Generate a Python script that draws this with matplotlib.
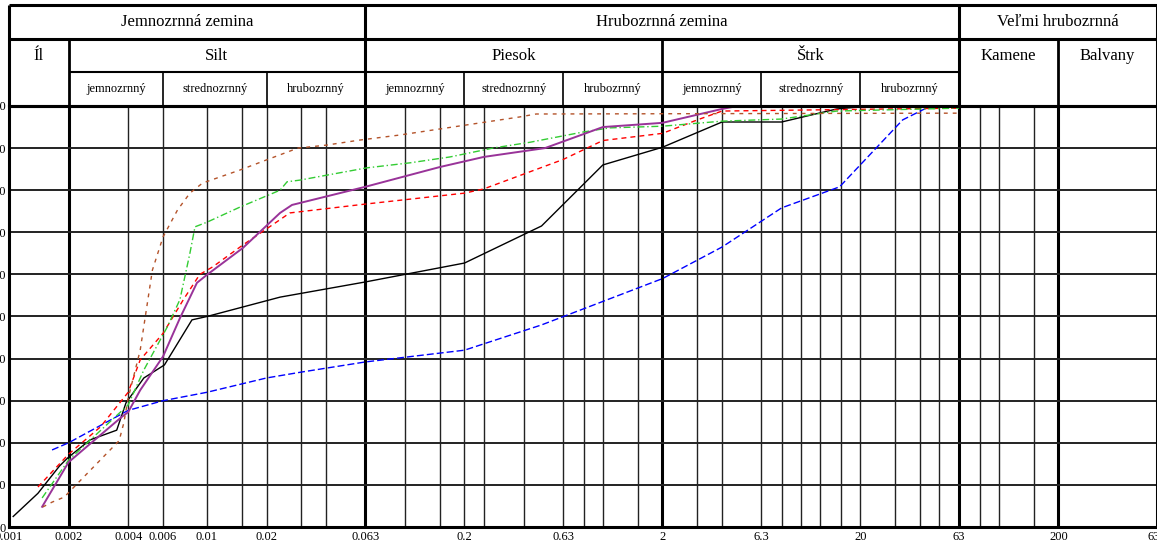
import numpy as np
import matplotlib.pyplot as plt

# zrnitostne krivky: priemer zrna [mm], prepad [%]
black_d = [0.00105, 0.0014, 0.0018, 0.002, 0.00257, 0.0035, 0.0039, 0.0048, 0.0061,
           0.0084, 0.01, 0.0234, 0.063, 0.2, 0.49, 1.0, 2.0, 4.0, 8.0, 15.2, 20, 63]
black_p = [2.5, 8.0, 14.5, 16.6, 20.7, 23.0, 29.5, 35.4, 38.5,
           49.2, 50.0, 54.6, 58.2, 62.7, 71.5, 86.0, 90.2, 96.2, 96.2, 99.3, 99.8, 100]

blue_d = [0.00165, 0.002, 0.004, 0.006, 0.01, 0.02, 0.03, 0.063, 0.2, 0.49,
          2.0, 4.0, 8.0, 15.7, 32.7, 43, 63]
blue_p = [18.3, 20.0, 27.7, 30.0, 32.0, 35.4, 36.8, 39.2, 42.0, 48.0,
          59.0, 66.5, 75.8, 80.8, 96.7, 99.5, 100]

red_d = [0.0014, 0.002, 0.0029, 0.004, 0.0046, 0.006, 0.0076, 0.0092, 0.0107, 0.0152,
         0.0234, 0.0262, 0.063, 0.2, 0.25, 0.63, 1.0, 2.0, 3.0, 4.0, 63]
red_p = [9.5, 17.3, 23.8, 32.0, 39.7, 46.0, 54.0, 60.0, 61.8, 67.0,
         73.0, 74.6, 76.7, 79.3, 80.3, 87.3, 91.8, 93.5, 96.7, 98.8, 99.5]

green_d = [0.00147, 0.002, 0.004, 0.0048, 0.0063, 0.0073, 0.0082, 0.0087, 0.01, 0.0147,
           0.0234, 0.0254, 0.0295, 0.064, 0.106, 0.169, 0.278, 0.43, 0.79, 1.08,
           2.0, 4.0, 8.0, 15.2, 63]
green_p = [6.9, 15.9, 29.0, 37.3, 47.5, 54.0, 65.0, 71.3, 72.4, 76.0,
           80.0, 82.0, 82.4, 85.3, 86.5, 87.9, 90.0, 91.4, 93.8, 94.8,
           95.2, 96.4, 96.9, 98.8, 99.5]

purple_d = [0.00147, 0.002, 0.0037, 0.004, 0.0046, 0.006, 0.0073, 0.0089, 0.01, 0.0152,
            0.0234, 0.0269, 0.063, 0.15, 0.25, 0.51, 1.0, 2.0, 4.0, 4.8, 63]
purple_p = [4.8, 15.4, 26.1, 27.3, 32.5, 40.5, 49.6, 58.0, 59.9, 66.3,
            74.6, 76.5, 80.8, 85.5, 87.9, 90.0, 95.0, 96.0, 99.3, 100, 100]

brown_d = [0.00148, 0.00165, 0.0019, 0.0036, 0.0038, 0.004, 0.0046, 0.0053, 0.006, 0.0071,
           0.0082, 0.0095, 0.0147, 0.02, 0.0288, 0.04, 0.059, 0.094, 0.163, 0.38, 0.46, 63]
brown_p = [4.75, 5.9, 7.1, 20.5, 24.7, 30.6, 42.0, 61.0, 68.9, 75.3,
           79.3, 81.7, 84.8, 87.2, 90.0, 90.7, 91.9, 93.1, 94.8, 97.4, 98.1, 98.3]

# os x
tick_vals = [0.001, 0.002, 0.004, 0.006, 0.01, 0.02, 0.063, 0.2, 0.63, 2, 6.3, 20, 63, 200, 630]
tick_labels = ['0.001', '0.002', '0.004', '0.006', '0.01', '0.02', '0.063', '0.2', '0.63',
               '2', '6.3', '20', '63', '200', '630']
grid_thin = [0.004, 0.006, 0.01, 0.015, 0.02, 0.03, 0.04, 0.1, 0.15, 0.2, 0.25, 0.4, 0.63,
             0.8, 1, 1.5, 3, 4, 6.3, 8, 10, 12.5, 16, 20, 30, 40, 50, 80, 100, 150]
grid_thick = [0.002, 0.063, 2, 63, 200]
y_ticks = [0, 10, 20, 30, 40, 50, 60, 70, 80, 90, 100]

# hlavicka tabulky
row1 = [(0.001, 0.063, 'Jemnozrnná zemina'), (0.063, 63, 'Hrubozrnná zemina'),
        (63, 630, 'Veľmi hrubozrnná')]
row2 = [(0.001, 0.002, 'Íl'), (0.002, 0.063, 'Silt'), (0.063, 2, 'Piesok'),
        (2, 63, 'Štrk'), (63, 200, 'Kamene'), (200, 630, 'Balvany')]
row3 = [(0.002, 0.006, 'jemnozrnný'), (0.006, 0.02, 'strednozrnný'), (0.02, 0.063, 'hrubozrnný'),
        (0.063, 0.2, 'jemnozrnný'), (0.2, 0.63, 'strednozrnný'), (0.63, 2, 'hrubozrnný'),
        (2, 6.3, 'jemnozrnný'), (6.3, 20, 'strednozrnný'), (20, 63, 'hrubozrnný')]

W, H = 1157, 548
fig = plt.figure(figsize=(W / 100, H / 100), dpi=100)
ax = fig.add_axes([9 / W, 21 / H, 1 - 9 / W, 421 / H])
hx = fig.add_axes([9 / W, 442 / H, 1 - 9 / W, 101 / H], sharex=ax)

serif = 'Liberation Serif'
gc = '#222222'

ax.set_xscale('log')
ax.set_xlim(0.001, 630)
ax.set_ylim(0, 100)

ax.vlines(grid_thin, 0, 100, color=gc, lw=1.0, zorder=1)
ax.vlines(grid_thick, 0, 100, color='black', lw=2.2, zorder=1)
ax.hlines(y_ticks[1:-1], 0.001, 630, color=gc, lw=1.4, zorder=1)

ax.plot(black_d, black_p, color='black', lw=1.0, zorder=3)
ax.plot(blue_d, blue_p, color='#0000ff', lw=1.0, dashes=(5, 2.2), zorder=3)
ax.plot(red_d, red_p, color='#ff0000', lw=1.0, dashes=(3.6, 2.9), zorder=3)
ax.plot(green_d, green_p, color='#33cc33', lw=1.0, dashes=(5, 2, 1, 2), zorder=3)
ax.plot(purple_d, purple_p, color='#993399', lw=1.4, zorder=3)
ax.plot(brown_d, brown_p, color='#b4532a', lw=1.0, dashes=(2.8, 3.6), zorder=3)

ax.set_xticks(tick_vals)
ax.set_xticklabels(tick_labels, fontfamily=serif, fontsize=9)
ax.minorticks_off()
ax.set_yticks(y_ticks)
ax.set_yticklabels([str(v) for v in y_ticks], fontfamily=serif, fontsize=9)
ax.tick_params(length=0)
ax.tick_params(axis='y', pad=2)
ax.tick_params(axis='x', pad=3)
for s in ax.spines.values():
    s.set_linewidth(2.2)

# hlavicka
hx.set_ylim(0, 3)
hx.axis('off')
kw = dict(color='black', clip_on=False)
hx.hlines([0, 2, 3], 0.001, 630, lw=2.2, **kw)
hx.hlines(1, 0.002, 63, lw=1.5, **kw)
hx.vlines([0.001, 630], 0, 3, lw=2.2, **kw)
hx.vlines([0.063, 63], 0, 3, lw=2.2, **kw)
hx.vlines([0.002, 2, 200], 0, 2, lw=2.0, **kw)
hx.vlines([0.006, 0.02, 0.2, 0.63, 6.3, 20], 0, 1, lw=1.2, **kw)

for a, b, t in row1:
    hx.text(np.sqrt(a * b), 2.5, t, ha='center', va='center', fontfamily=serif, fontsize=12)
for a, b, t in row2:
    hx.text(np.sqrt(a * b), 1.5, t, ha='center', va='center', fontfamily=serif, fontsize=12)
for a, b, t in row3:
    hx.text(np.sqrt(a * b), 0.5, t, ha='center', va='center', fontfamily=serif, fontsize=9)

fig.savefig('out.png', dpi=100)
